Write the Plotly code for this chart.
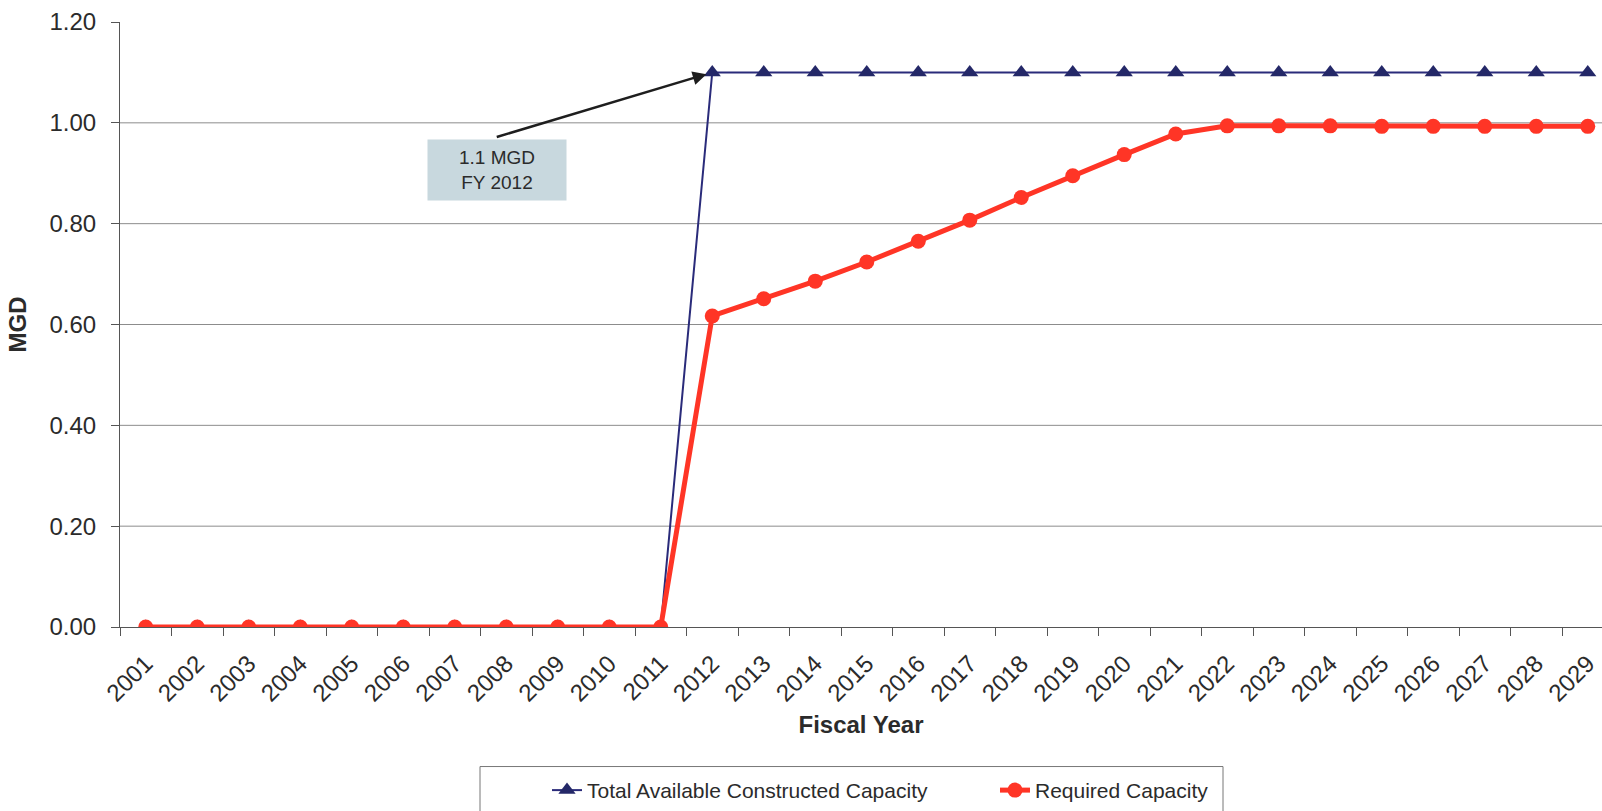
import plotly.graph_objects as go

years = [str(y) for y in range(2001, 2030)]
total_capacity = [0.0] * 11 + [1.10] * 18
required_capacity = [0.0] * 11 + [0.617, 0.651, 0.686, 0.724, 0.765, 0.807, 0.852,
                                  0.895, 0.937, 0.978, 0.994, 0.994, 0.994, 0.993,
                                  0.993, 0.993, 0.993, 0.993]
y_ticks = [0.0, 0.2, 0.4, 0.6, 0.8, 1.0, 1.2]
grid_values = [0.2, 0.4, 0.6, 0.8, 1.0]
annot_year = "2012"
annot_text = "1.1 MGD<br>FY 2012"

FONT = "Arial, 'Liberation Sans', sans-serif"
TXT = "#2b2b2b"
W, H = 1602, 811
L, R, T, B = 120, 0, 22, 182
PW, PH = W - L - R, H - T - B


def px_x(p):
    return (p - L) / PW


def px_y(p):
    return (H - B - p) / PH


fig = go.Figure()
fig.add_trace(go.Scatter(
    x=years, y=total_capacity, name="Total Available Constructed Capacity",
    mode="lines+markers",
    line=dict(color="#2a2b7a", width=2),
    marker=dict(symbol="triangle-up", size=15, color="#242868"),
))
fig.add_trace(go.Scatter(
    x=years, y=required_capacity, name="Required Capacity",
    mode="lines+markers",
    line=dict(color="#ff3526", width=5),
    marker=dict(symbol="circle", size=15, color="#ff3526"),
))

for g in grid_values:
    fig.add_hline(y=g, line=dict(color="#8c8c8c", width=1), layer="below")

# legend frame
fig.add_shape(type="rect", xref="paper", yref="paper",
              x0=px_x(480), x1=px_x(1223), y0=px_y(769), y1=px_y(830),
              line=dict(color="#777777", width=1), fillcolor="rgba(0,0,0,0)")

ai = years.index(annot_year)
# label box
fig.add_annotation(
    x=ai, y=total_capacity[ai], xref="x", yref="y",
    text=annot_text, showarrow=False,
    xshift=-215, yshift=-98,
    bgcolor="#c8d8de", borderpad=10, width=118, height=40,
    font=dict(family=FONT, size=19, color=TXT),
)
# arrow
fig.add_annotation(
    x=ai, y=total_capacity[ai], xref="x", yref="y",
    text="", showarrow=True,
    ax=-217, ay=65, axref="pixel", ayref="pixel",
    arrowhead=2, arrowsize=1.1, arrowwidth=2.5, arrowcolor="#1e1e1e",
    standoff=6,
)

fig.update_layout(
    width=W, height=H,
    margin=dict(l=L, r=R, t=T, b=B, pad=0),
    paper_bgcolor="white", plot_bgcolor="white",
    font=dict(family=FONT, color=TXT),
    showlegend=True,
    legend=dict(orientation="h", x=px_x(547), xanchor="left",
                y=px_y(793), yanchor="middle",
                entrywidth=403, entrywidthmode="pixels",
                font=dict(family=FONT, size=21, color=TXT),
                bgcolor="rgba(0,0,0,0)"),
    xaxis=dict(type="category", range=[-0.5, (PW / 51.5) - 0.5],
               showgrid=False, showline=True, linecolor="#555555", linewidth=1,
               ticks="outside", ticklen=8, tickcolor="#555555", tickson="boundaries",
               tickangle=-45, ticklabelstandoff=12,
               tickfont=dict(family=FONT, size=24, color=TXT),
               title=dict(text="<b>Fiscal Year</b>", standoff=10,
                          font=dict(family=FONT, size=24, color=TXT)),
               zeroline=False),
    yaxis=dict(range=[0, 1.2], tickvals=y_ticks, tickformat=".2f",
               showgrid=False, showline=True, linecolor="#555555", linewidth=1,
               ticks="outside", ticklen=8, tickcolor="#555555",
               ticklabelstandoff=10,
               tickfont=dict(family=FONT, size=24, color=TXT),
               title=dict(text="<b>MGD</b>", standoff=16,
                          font=dict(family=FONT, size=24, color=TXT)),
               zeroline=False),
)

fig.write_html("out.html")
